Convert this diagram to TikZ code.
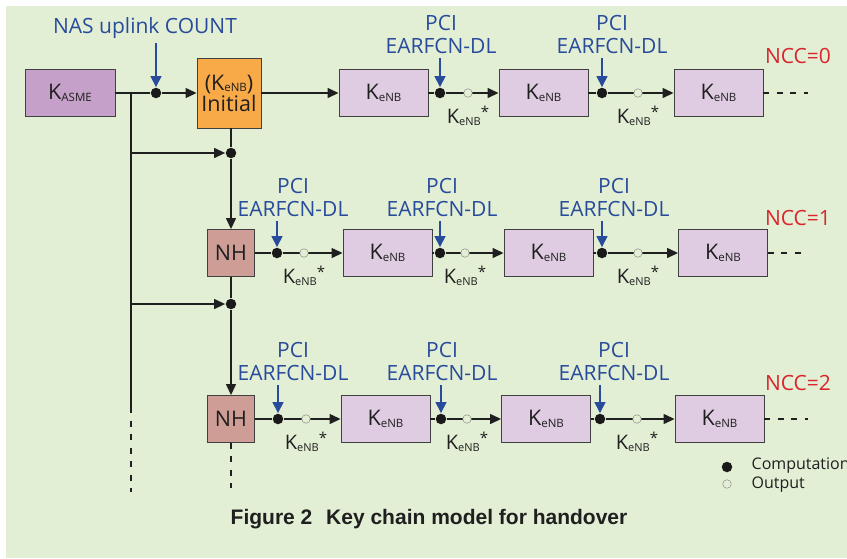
\documentclass[tikz,border=0pt]{standalone}
\usepackage{fontspec}
\setmainfont{Open Sans}
\newfontfamily\capfont{Liberation Sans}
\usetikzlibrary{arrows.meta}
\definecolor{bg}{RGB}{226,239,213}
\definecolor{kenbcol}{RGB}{224,204,226}
\definecolor{kasmecol}{RGB}{197,160,200}
\definecolor{initcol}{RGB}{247,170,71}
\definecolor{nhcol}{RGB}{205,157,150}
\definecolor{lblue}{RGB}{40,75,155}
\definecolor{nccred}{RGB}{218,37,44}
\newcommand{\kenb}{K\raisebox{-1.5pt}{\fontsize{11.5}{12}\selectfont eNB}}
\newcommand{\kstar}{K\raisebox{-1.5pt}{\fontsize{11}{11}\selectfont eNB}\raisebox{6pt}{\fontsize{15}{15}\selectfont *}}

\begin{document}
\begin{tikzpicture}[x=1pt, y=-1pt, line width=1.3pt, color=black!88,
  >={Triangle[length=11pt,width=10pt]},
  box/.style={draw=black!75, line width=0.9pt, fill=kenbcol, inner sep=0pt, minimum width=89pt, minimum height=47pt, font=\fontsize{21.5}{23}\selectfont},
  comp/.style={circle, fill=black!90, inner sep=0pt, minimum size=10.5pt},
  outp/.style={circle, draw=black!45, line width=0.5pt, fill=bg, inner sep=0pt, minimum size=8.5pt},
  outk/.style={outp, label={[label distance=8pt, inner sep=0pt, font=\fontsize{20}{21}\selectfont]-90:\kstar}},
  pci/.style={text=lblue, align=center, inner sep=2pt, font=\fontsize{21}{23}\selectfont},
  ncc/.style={text=nccred, inner sep=0pt, font=\fontsize{21}{23}\selectfont},
  blue arrow/.style={draw=lblue, line width=1.1pt, -{Triangle[length=11pt,width=11pt]}, shorten <=2pt},
  dash line/.style={dash pattern=on 6pt off 7.5pt}]
\useasboundingbox (0,0) rectangle (847,558);
\fill[bg] (6,6) rectangle (847,558);

% Boxes
\node[box, fill=kasmecol, minimum width=90pt] (kasme) at (70,93) {K\raisebox{-1.5pt}{\fontsize{11.5}{12}\selectfont ASME}};
\node[box, fill=initcol, minimum width=64pt, minimum height=70pt, align=center] (init) at (229,93) {(\kenb)\\[-2pt]Initial};
\node[box] (k01) at (383.5,93) {\kenb};
\node[box] (k02) at (543.5,93) {\kenb};
\node[box] (k03) at (718.5,93) {\kenb};
\node[box, fill=nhcol, minimum width=47pt] (nh1) at (231,253) {NH};
\node[box] (k11) at (387.5,253) {\kenb};
\node[box] (k12) at (548.5,253) {\kenb};
\node[box] (k13) at (723,253) {\kenb};
\node[box, fill=nhcol, minimum width=47pt] (nh2) at (231,419) {NH};
\node[box] (k21) at (385.5,419) {\kenb};
\node[box] (k22) at (546,419) {\kenb};
\node[box] (k23) at (719.5,419) {\kenb};

% Points
\node[comp] (c00) at (156,93) {};
\node[comp] (c01) at (440,93) {};
\node[comp] (c02) at (602,93) {};
\node[comp] (b1) at (231,153) {};
\node[comp] (c10) at (277,253) {};
\node[comp] (c11) at (440,253) {};
\node[comp] (c12) at (602,253) {};
\node[comp] (b2) at (231,304) {};
\node[comp] (c20) at (278,419) {};
\node[comp] (c21) at (441,419) {};
\node[comp] (c22) at (600,419) {};
\coordinate (t0) at (131,93);
\coordinate (t1) at (131,153);
\coordinate (t2) at (131,304);
\coordinate (t3) at (131,407);
\coordinate (t4) at (131,492);
\coordinate (d2) at (231,488);
\coordinate (e0) at (808,93);
\coordinate (e1) at (808,253);
\coordinate (e2) at (808,419);

% Labels
\node[pci] (nas) at (145,28) {NAS uplink COUNT};
\node[pci] (p01) at (441,34) {PCI\\EARFCN-DL};
\node[pci] (p02) at (612,34) {PCI\\EARFCN-DL};
\node[pci] (p10) at (293,197) {PCI\\EARFCN-DL};
\node[pci] (p11) at (442,197) {PCI\\EARFCN-DL};
\node[pci] (p12) at (614,197) {PCI\\EARFCN-DL};
\node[pci] (p20) at (293,361) {PCI\\EARFCN-DL};
\node[pci] (p21) at (442,361) {PCI\\EARFCN-DL};
\node[pci] (p22) at (614,361) {PCI\\EARFCN-DL};
\node[ncc] (ncc0) at (798,56) {NCC=0};
\node[ncc] (ncc1) at (798,218) {NCC=1};
\node[ncc] (ncc2) at (798,383) {NCC=2};

%Lines
\draw (kasme) -- (c00);
\draw[->] (c00) -- (init);
\draw[->] (init) -- (k01);
\draw (k01) -- (c01);
\draw[->] (c01) -- (k02);
\draw (k02) -- (c02);
\draw[->] (c02) -- (k03);
\draw[dash line] (k03) -- (e0);
\draw (t0) -- (t3);
\draw[dash line] (t3) -- (t4);
\draw[->] (t1) -- (b1);
\draw[->] (t2) -- (b2);
\draw (init.south -| b1) -- (b1);
\draw[->] (b1) -- (nh1);
\draw (nh1) -- (b2);
\draw[->] (b2) -- (nh2);
\draw[dash line] (nh2) -- (d2);
\draw (nh1) -- (c10);
\draw[->] (c10) -- (k11);
\draw (k11) -- (c11);
\draw[->] (c11) -- (k12);
\draw (k12) -- (c12);
\draw[->] (c12) -- (k13);
\draw[dash line] (k13) -- (e1);
\draw (nh2) -- (c20);
\draw[->] (c20) -- (k21);
\draw (k21) -- (c21);
\draw[->] (c21) -- (k22);
\draw (k22) -- (c22);
\draw[->] (c22) -- (k23);
\draw[dash line] (k23) -- (e2);

\draw[blue arrow] (nas.south -| c00) -- (c00);
\draw[blue arrow] (p01.south -| c01) -- (c01);
\draw[blue arrow] (p02.south -| c02) -- (c02);
\draw[blue arrow] (p10.south -| c10) -- (c10);
\draw[blue arrow] (p11.south -| c11) -- (c11);
\draw[blue arrow] (p12.south -| c12) -- (c12);
\draw[blue arrow] (p20.south -| c20) -- (c20);
\draw[blue arrow] (p21.south -| c21) -- (c21);
\draw[blue arrow] (p22.south -| c22) -- (c22);

% Points
\node[outk] (o01) at (468,93) {};
\node[outk] (o02) at (638,93) {};
\node[outk] (o10) at (304,253) {};
\node[outk] (o11) at (465,253) {};
\node[outk] (o12) at (638,253) {};
\node[outk] (o20) at (306,419) {};
\node[outk] (o21) at (467,419) {};
\node[outk] (o22) at (637,419) {};

% Legend
\node[comp] (lc) at (727,467) {};
\node[outp] (lo) at (727,484) {};
\node[anchor=west, inner sep=0pt, font=\fontsize{16}{18}\selectfont] (lct) at (751,466) {Computation};
\node[anchor=west, inner sep=0pt, font=\fontsize{16}{18}\selectfont] (lot) at (751,485) {Output};

\node[font=\capfont\bfseries\fontsize{21}{24}\selectfont] (cap) at (429,519) {Figure 2\hspace{8pt} Key chain model for handover};
\end{tikzpicture}
\end{document}
